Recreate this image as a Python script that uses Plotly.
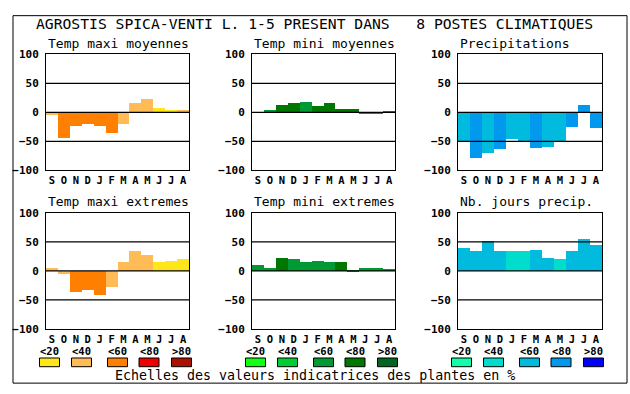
import plotly.graph_objects as go

W, H = 630, 394

months = ["S", "O", "N", "D", "J", "F", "M", "A", "M", "J", "J", "A"]

titles = ["Temp maxi moyennes", "Temp mini moyennes", "Precipitations",
          "Temp maxi extremes", "Temp mini extremes", "Nb. jours precip."]

tmax_moy = [-5, -44, -24, -21, -24, -37, -21, 16, 22, 7, 4, 4]
tmax_moy_cls = [1, 2, 2, 2, 2, 2, 1, 1, 1, 0, 0, 1]

tmin_moy = [0, 4, 12, 15, 17, 10, 15, 5, 5, -4, -2, 2]
tmin_moy_cls = [2, 2, 3, 3, 2, 3, 3, 3, 3, 2, 2, 2]

precip = [-52, -80, -70, -64, -46, -52, -62, -60, -52, -25, 12, -27]
precip_cls = [2, 3, 2, 3, 2, 2, 3, 2, 2, 3, 3, 3]

tmax_ext = [5, -5, -37, -32, -42, -27, 15, 35, 27, 15, 17, 20]
tmax_ext_cls = [1, 1, 2, 2, 2, 1, 1, 1, 1, 0, 0, 0]

tmin_ext = [10, 5, 22, 20, 15, 17, 15, 15, 2, 5, 5, 4]
tmin_ext_cls = [2, 2, 3, 2, 2, 2, 2, 3, 2, 2, 2, 2]

nb_jours = [40, 35, 52, 35, 34, 35, 37, 22, 20, 35, 55, 45]
nb_jours_cls = [2, 2, 2, 2, 1, 1, 2, 2, 1, 2, 2, 2]

class_labels = ["<20", "<40", "<60", "<80", ">80"]
warm = ["#FFE619", "#FFBB55", "#FF8000", "#EE0000", "#AA1100"]
green = ["#11FF11", "#00CC33", "#009933", "#007700", "#006622"]
blue = ["#11FFAA", "#00DDCC", "#00BBDD", "#0099EE", "#0000FF"]

panels = [
    (tmax_moy, tmax_moy_cls, warm),
    (tmin_moy, tmin_moy_cls, green),
    (precip, precip_cls, blue),
    (tmax_ext, tmax_ext_cls, warm),
    (tmin_ext, tmin_ext_cls, green),
    (nb_jours, nb_jours_cls, blue),
]
palettes = [warm, green, blue]

main_title = "AGROSTIS SPICA-VENTI L. 1-5 PRESENT DANS   8 POSTES CLIMATIQUES"
footer = "Echelles des valeurs indicatrices des plantes en %"

# layout geometry (pixels)
col_x = [(46, 189), (252, 395), (458, 602)]
row_y = [(50, 170), (214, 334)]

MONO = "DejaVu Sans Mono"
fig = go.Figure()
shapes = []
annotations = []

def px_x(x):
    return x / W

def px_y(y):
    return 1 - y / H

for i, (vals, cls, pal) in enumerate(panels):
    r, c = divmod(i, 3)
    n = i + 1
    xa = "x" if n == 1 else f"x{n}"
    ya = "y" if n == 1 else f"y{n}"
    fig.add_trace(go.Bar(
        x=list(range(len(months))), y=vals,
        marker=dict(color=[pal[k] for k in cls], line=dict(width=0)),
        width=1.0, xaxis=xa, yaxis=ya, showlegend=False, hoverinfo="skip",
    ))
    x0, x1 = col_x[c]
    y0, y1 = row_y[r]
    xkey = "xaxis" if n == 1 else f"xaxis{n}"
    ykey = "yaxis" if n == 1 else f"yaxis{n}"
    fig.layout[xkey] = dict(
        domain=[px_x(x0), px_x(x1)], anchor=ya, range=[-0.5, 11.5],
        tickvals=list(range(12)), ticktext=months, ticks="",
        showgrid=False, zeroline=False, showline=True, mirror=True,
        linecolor="black", linewidth=1, ticklabelstandoff=0,
        tickfont=dict(family=MONO, size=10.5, color="black", weight="bold"),
        fixedrange=True,
    )
    fig.layout[ykey] = dict(
        domain=[px_y(y1), px_y(y0)], anchor=xa, range=[-100, 100],
        tickvals=[-100, -50, 0, 50, 100], ticks="", showgrid=False,
        zeroline=False, showline=True, mirror=True, linecolor="black",
        linewidth=1, ticklabelstandoff=4,
        tickfont=dict(family=MONO, size=11, color="black", weight="bold"),
        fixedrange=True,
    )
    for lv in (-50, 0, 50):
        shapes.append(dict(type="line", xref=f"{xa} domain", yref=ya,
                           x0=0, x1=1, y0=lv, y1=lv, layer="above",
                           line=dict(color="black", width=1.2)))
    annotations.append(dict(
        text=titles[i], xref="paper", yref="paper", x=px_x(x0), y=px_y(y0 - 11.5),
        xanchor="left", yanchor="middle", showarrow=False,
        font=dict(family=MONO, size=13, color="black"),
    ))

# outer frame
shapes.append(dict(type="rect", xref="paper", yref="paper",
                   x0=px_x(13), x1=px_x(627), y0=px_y(390), y1=px_y(10),
                   line=dict(color="black", width=1)))

# legend keys
group_start = [49.5, 255.5, 461.5]
offsets = [0, 32, 68, 99.5, 132]
for g, pal in enumerate(palettes):
    for k, col in enumerate(pal):
        cx = group_start[g] + offsets[k]
        shapes.append(dict(type="rect", xref="paper", yref="paper",
                           x0=px_x(cx - 10), x1=px_x(cx + 10),
                           y0=px_y(373), y1=px_y(364),
                           fillcolor=col, line=dict(color="black", width=1)))
        annotations.append(dict(
            text=class_labels[k], xref="paper", yref="paper",
            x=px_x(cx), y=px_y(356.5), xanchor="center", yanchor="middle",
            showarrow=False,
            font=dict(family=MONO, size=10.5, color="black", weight="bold"),
        ))

annotations.append(dict(
    text=main_title, xref="paper", yref="paper", x=px_x(314), y=px_y(18),
    xanchor="center", yanchor="middle", showarrow=False,
    font=dict(family=MONO, size=14.7, color="black"),
))
annotations.append(dict(
    text=footer, xref="paper", yref="paper", x=px_x(314.5), y=px_y(382),
    xanchor="center", yanchor="middle", showarrow=False,
    font=dict(family=MONO, size=13.3, color="black"),
))

fig.update_layout(
    width=W, height=H, margin=dict(l=0, r=0, t=0, b=0),
    paper_bgcolor="white", plot_bgcolor="white", bargap=0,
    shapes=shapes, annotations=annotations,
)

fig.write_html(
    "out.html",
    config={"displayModeBar": False},
    post_script="document.body.style.margin='0';document.body.style.overflow='hidden';",
)
